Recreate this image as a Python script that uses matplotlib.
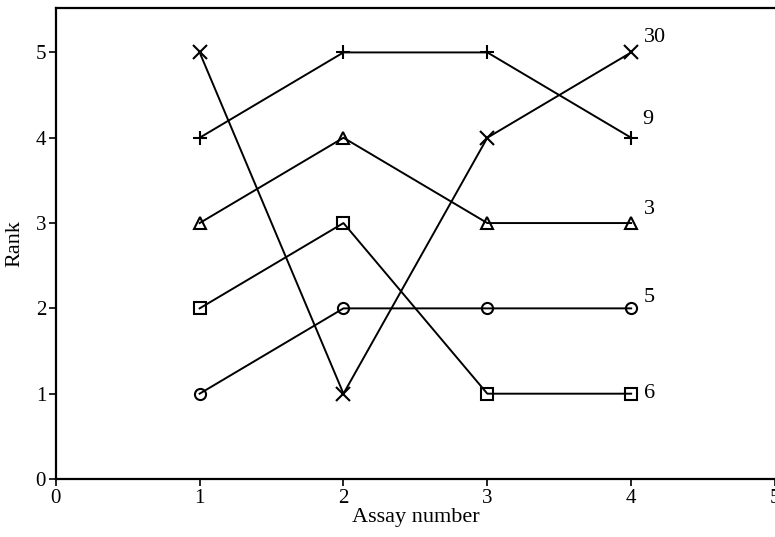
import matplotlib.pyplot as plt

assays = [1, 2, 3, 4]
names = ["30", "9", "3", "5", "6"]
rank_30 = [5, 1, 4, 5]
rank_9 = [4, 5, 5, 4]
rank_3 = [3, 4, 3, 3]
rank_5 = [1, 2, 2, 2]
rank_6 = [2, 3, 1, 1]

series = [rank_30, rank_9, rank_3, rank_5, rank_6]
markers = ["x", "+", "^", "o", "s"]
sizes = [10, 10, 8, 8, 8]
# label offsets (points) from the last point
offsets = [(9, 11), (8, 13), (9, 10), (9, 8), (9, 0)]

plt.rcParams["font.family"] = "Liberation Serif"
fig = plt.figure(figsize=(7.75, 5.37), dpi=100)
ax = fig.add_axes([0.072, 0.108, 0.928, 0.877])

for vals, m, s, name, off in zip(series, markers, sizes, names, offsets):
    ax.plot(assays, vals, "-", color="black", lw=1.4, marker=m, ms=s,
            mfc="none", mec="black", mew=1.5)
    ax.annotate(name, (assays[-1], vals[-1]), xytext=off,
                textcoords="offset points", fontsize=16, ha="left", va="center")

ax.set_xlim(0, 5)
ax.set_ylim(0, 5.52)
ax.set_xticks([0, 1, 2, 3, 4, 5])
ax.set_yticks([0, 1, 2, 3, 4, 5])
ax.tick_params(direction="out", length=5, width=1.2, labelsize=15, pad=2)
ax.set_xlabel("Assay number", fontsize=16, labelpad=0)
ax.set_ylabel("Rank", fontsize=16, labelpad=8)
for sp in ["left", "bottom", "top"]:
    ax.spines[sp].set_linewidth(1.6)
ax.spines["right"].set_linewidth(0.6)
ax.spines["right"].set_color("#bbbbbb")

fig.savefig("out.png", dpi=100)
